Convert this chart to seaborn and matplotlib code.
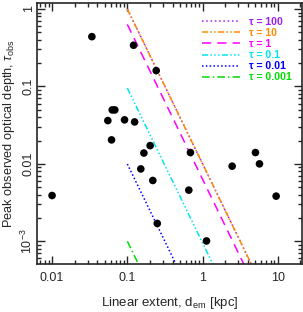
import matplotlib
matplotlib.use('Agg')
import matplotlib.pyplot as plt
import matplotlib.ticker as mticker
import seaborn as sns
import numpy as np
import pandas as pd

# observed sources: linear extent [kpc] and peak optical depth
d_em = [0.0338, 0.121, 0.242, 0.0630, 0.0682, 0.0551, 0.0918, 0.125, 0.0617,
        0.201, 0.166, 0.690, 0.151, 0.218, 0.656, 0.250, 1.127, 2.47, 5.04,
        5.70, 9.49, 0.01]
tau_obs = [0.439, 0.340, 0.160, 0.0497, 0.0497, 0.0362, 0.0370, 0.0348, 0.0204,
           0.0172, 0.0138, 0.0140, 0.0086, 0.0061, 0.00458, 0.00170, 0.00101,
           0.00933, 0.0140, 0.0100, 0.00383, 0.0039]

# model lines (straight in log-log): values at d = 0.1 and d = 10 kpc
line_d = [0.1, 10]
line_tau = ['100', '10', '1', '0.1', '0.01', '0.001']
line_start = [1.0, 1.0, 0.632, 0.0952, 0.00995, 0.001]
line_end = [1.0e-4, 1.0e-4, 6.32e-5, 9.52e-6, 9.95e-7, 1.0e-7]
line_colors = ['#a020f0', '#ff8c00', '#ff00ff', '#00e5ee', '#0000ff', '#00dd00']
line_styles = [(0, (1, 1.8)), (0, (4, 1.5, 1, 1.5, 1, 1.5)), (0, (6, 4)),
               (0, (4, 1.5, 1, 1.5, 1, 1.5, 1, 1.5)), (0, (1, 1.5)),
               (0, (5, 2, 1, 2))]

sns.set_style('ticks')
plt.rcParams['font.family'] = ['Liberation Sans', 'DejaVu Sans']
plt.rcParams['mathtext.fontset'] = 'custom'
plt.rcParams['mathtext.rm'] = 'Liberation Sans'
plt.rcParams['mathtext.it'] = 'Liberation Sans:italic'

fig = plt.figure(figsize=(3.03, 3.12), dpi=100)
ax = fig.add_axes([0.122, 0.154, 0.875, 0.836])

for tau, y0, y1, c, ls in zip(line_tau, line_start, line_end, line_colors, line_styles):
    sns.lineplot(x=line_d, y=[y0, y1], color=c, linestyle=ls, linewidth=1.1,
                 label='τ = ' + tau, ax=ax)

df = pd.DataFrame({'d': d_em, 'tau': tau_obs})
sns.scatterplot(data=df, x='d', y='tau', color='black', s=30, edgecolor='none',
                ax=ax, zorder=5)

ax.set_xscale('log')
ax.set_yscale('log')
ax.set_xlim(0.0063, 21)
ax.set_ylim(5.1e-4, 1.19)

ax.xaxis.set_major_locator(mticker.FixedLocator([0.01, 0.1, 1, 10]))
ax.xaxis.set_major_formatter(mticker.FixedFormatter(['0.01', '0.1', '1', '10']))
ax.yaxis.set_major_locator(mticker.FixedLocator([1e-3, 0.01, 0.1, 1]))
ax.yaxis.set_major_formatter(mticker.FixedFormatter([r'10$^{-3}$', '0.01', '0.1', '1']))
ax.xaxis.set_minor_locator(mticker.LogLocator(subs=np.arange(2, 10)))
ax.yaxis.set_minor_locator(mticker.LogLocator(subs=np.arange(2, 10)))
ax.xaxis.set_minor_formatter(mticker.NullFormatter())
ax.yaxis.set_minor_formatter(mticker.NullFormatter())

ax.tick_params(which='both', direction='in', top=True, right=True, width=1.0,
               labelsize=9)
ax.tick_params(which='major', length=5.5)
ax.tick_params(which='minor', length=2.8)
ax.tick_params(axis='x', pad=6)
ax.tick_params(axis='y', pad=1.5)
for lab in ax.get_yticklabels():
    lab.set_rotation(90)
    lab.set_va('center')
for sp in ax.spines.values():
    sp.set_linewidth(1.2)
    sp.set_visible(True)

ax.set_xlabel(r'Linear extent, d$_{\rm em}$ [kpc]', fontsize=9.5, labelpad=8)
ax.set_ylabel(r'Peak observed optical depth, $\tau_{\rm obs}$', fontsize=9.2,
              labelpad=2)

leg = ax.legend(loc='upper right', bbox_to_anchor=(0.99, 0.975), frameon=False,
                labelcolor='linecolor', prop={'weight': 'bold', 'size': 7.6},
                handlelength=3.6, handletextpad=0.85, labelspacing=0.1,
                borderaxespad=0.3)

fig.savefig('out.png', dpi=100)
